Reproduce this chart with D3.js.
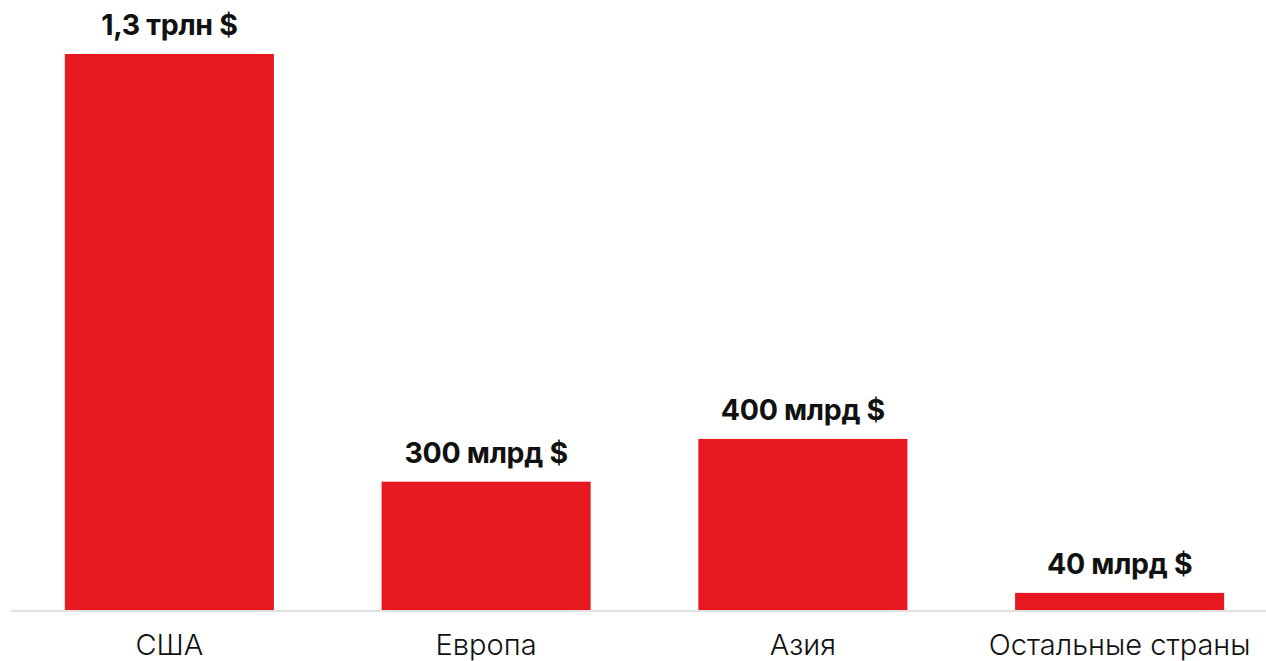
<!DOCTYPE html>
<html>
<head>
<meta charset="utf-8">
<script src="https://cdn.jsdelivr.net/npm/d3@7"></script>
<style>
  body { margin: 0; background: #fff; }
  svg { display: block; }
  .valor { font-family: Inter, "Noto Sans", sans-serif; font-weight: 700; font-size: 28.5px; fill: #111; letter-spacing: -0.3px; }
  .cat { font-family: Inter, "Noto Sans", sans-serif; font-weight: 300; font-size: 29px; fill: #111; }
</style>
</head>
<body>
<div id="graf"></div>
<script>
// datos
regiones = ['США', 'Европа', 'Азия', 'Остальные страны']
valores  = [1300, 300, 400, 40]   // млрд $
etiquetas = ['1,3 трлн $', '300 млрд $', '400 млрд $', '40 млрд $']

ancho_total = 1266
alto_total = 661
base = 610

svg = d3.select('#graf').append('svg')
  .attr('width', ancho_total)
  .attr('height', alto_total)

// escaladores
x = d3.scaleBand()
  .domain(regiones)
  .range([11, 1278])
  .paddingInner(0.34)
  .paddingOuter(0.17)

y = d3.scaleLinear()
  .domain([0, 1300])
  .range([base, 54])

datos = regiones.map((r, i) => ({ region: r, valor: valores[i], etiqueta: etiquetas[i] }))

// barras
svg.selectAll('rect.barra')
  .data(datos)
  .enter().append('rect')
  .attr('class', 'barra')
  .attr('x', d => x(d.region))
  .attr('y', d => y(d.valor))
  .attr('width', x.bandwidth())
  .attr('height', d => base - y(d.valor))
  .attr('fill', '#e81820')

// linea base
svg.append('line')
  .attr('x1', 11).attr('x2', ancho_total)
  .attr('y1', base + 1).attr('y2', base + 1)
  .attr('stroke', '#d6d6d6')
  .attr('stroke-width', 1.5)

// etiquetas de valor
svg.selectAll('text.valor')
  .data(datos)
  .enter().append('text')
  .attr('class', 'valor')
  .attr('x', d => x(d.region) + x.bandwidth() / 2)
  .attr('y', d => y(d.valor) - 19)
  .attr('text-anchor', 'middle')
  .text(d => d.etiqueta)

// etiquetas de categoria
svg.selectAll('text.cat')
  .data(datos)
  .enter().append('text')
  .attr('class', 'cat')
  .attr('x', d => x(d.region) + x.bandwidth() / 2)
  .attr('y', 655)
  .attr('text-anchor', 'middle')
  .text(d => d.region)
</script>
</body>
</html>
